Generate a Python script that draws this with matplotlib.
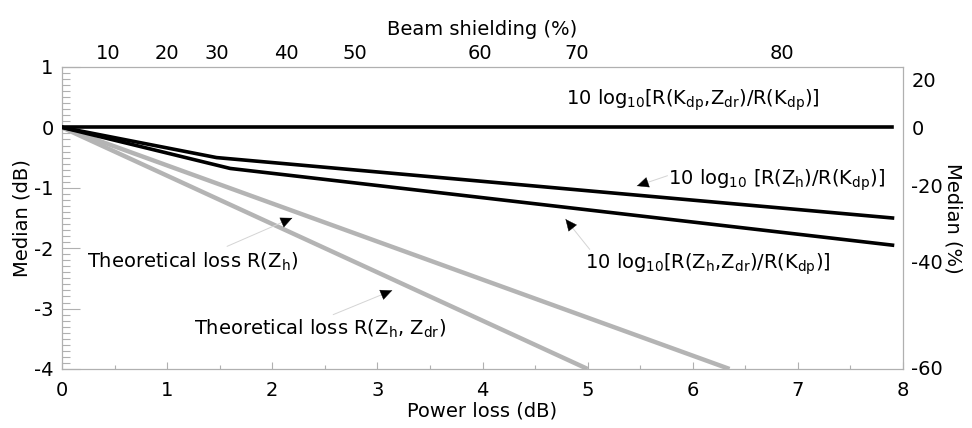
import numpy as np
import matplotlib
matplotlib.use("Agg")
import matplotlib.pyplot as plt

plt.rcParams['font.family'] = ['DejaVu Sans']
plt.rcParams['mathtext.default'] = 'regular'
plt.rcParams['axes.unicode_minus'] = False

# Median rain-rate ratios (dB) versus power loss (dB)
kdpzdr_x = [0.0, 7.9]
kdpzdr_y = [0.0, 0.0]
zh_x = [0.0, 1.47, 7.9]
zh_y = [0.0, -0.50, -1.50]
zhzdr_x = [0.0, 1.60, 7.9]
zhzdr_y = [0.0, -0.68, -1.95]
theo_zh_x = [0.0, 6.35]
theo_zh_y = [0.0, -4.0]
theo_zhzdr_x = [0.0, 5.0]
theo_zhzdr_y = [0.0, -4.0]

# Secondary scales
pct_labels = [20, 0, -20, -40, -60]
shield_labels = [10, 20, 30, 40, 50, 60, 70, 80]
shield_loss_db = [0.44, 1.00, 1.47, 2.13, 2.79, 3.98, 4.90, 6.85]

BLACK = '#000000'
GRAY = '#b4b4b4'
SPINE = '#b0b0b0'
FS = 14

fig = plt.figure(figsize=(9.72, 4.28), dpi=100)
ax = fig.add_axes([0.0638, 0.1379, 0.8652, 0.7056])

ax.plot(theo_zh_x, theo_zh_y, color=GRAY, lw=3.2, solid_capstyle='butt', zorder=2)
ax.plot(theo_zhzdr_x, theo_zhzdr_y, color=GRAY, lw=3.2, solid_capstyle='butt', zorder=2)
ax.plot(kdpzdr_x, kdpzdr_y, color=BLACK, lw=2.6, zorder=3)
ax.plot(zh_x, zh_y, color=BLACK, lw=2.6, zorder=3)
ax.plot(zhzdr_x, zhzdr_y, color=BLACK, lw=2.6, zorder=3)

ax.set_xlim(0, 8)
ax.set_ylim(-4, 1)
ax.set_xticks(np.arange(0, 9, 1))
ax.set_xticks(np.arange(0, 8.01, 0.5), minor=True)
ax.set_yticks(np.arange(-4, 1.01, 1))
ax.set_yticks(np.arange(-4, 1.01, 0.1), minor=True)
ax.tick_params(axis='both', which='both', direction='in', color=SPINE,
               top=True, right=True, labelsize=FS, width=0.8)
ax.tick_params(axis='x', which='major', length=5, pad=9)
ax.tick_params(axis='x', which='minor', length=3)
ax.tick_params(axis='y', which='major', length=13, pad=6)
ax.tick_params(axis='y', which='minor', length=6)
for s in ax.spines.values():
    s.set_color(SPINE)
    s.set_linewidth(0.9)

ax.set_xlabel('Power loss (dB)', fontsize=FS, labelpad=1)
ax.set_ylabel('Median (dB)', fontsize=FS, labelpad=2)

# Right axis: median in percent
axr = ax.twinx()
axr.set_ylim(ax.get_ylim())
axr.set_yticks([10 * np.log10(1 + p / 100.0) for p in pct_labels])
axr.set_yticklabels([str(p) for p in pct_labels])
axr.tick_params(axis='y', length=0, labelsize=FS, pad=6)
for s in axr.spines.values():
    s.set_visible(False)
axr.set_ylabel('Median (%)', fontsize=FS, rotation=270, labelpad=14)

# Top axis: beam shielding
axt = ax.twiny()
axt.set_xlim(ax.get_xlim())
axt.set_xticks(shield_loss_db)
axt.set_xticklabels([str(s) for s in shield_labels])
axt.tick_params(axis='x', length=0, labelsize=FS, pad=3)
for s in axt.spines.values():
    s.set_visible(False)
axt.set_xlabel('Beam shielding (%)', fontsize=FS, labelpad=6)


def pointer(text, xy, xytext, tail):
    ax.annotate(text, xy=xy, xytext=xytext, fontsize=FS, ha='center', va='center')
    # thin leader line from the label towards the curve
    ax.annotate('', xy=xy, xytext=tail,
                arrowprops=dict(arrowstyle='-', color='#d4d4d4', lw=0.7,
                                shrinkA=0, shrinkB=0))
    # small filled arrowhead at the curve end
    p_tip = ax.transData.transform(xy)
    p_tail = ax.transData.transform(tail)
    d = p_tip - p_tail
    d = d / np.hypot(*d)
    off = -d * 9 * 72.0 / fig.dpi
    ax.annotate('', xy=xy, xytext=(off[0], off[1]), textcoords='offset points',
                arrowprops=dict(arrowstyle='-|>,head_length=0.65,head_width=0.3',
                                color=BLACK, lw=0.3, shrinkA=0, shrinkB=0,
                                mutation_scale=12))


ax.text(6.00, 0.45, r'10 log$_{10}$[R(K$_{dp}$,Z$_{dr}$)/R(K$_{dp}$)]',
        fontsize=FS, ha='center', va='center')
pointer(r'10 log$_{10}$ [R(Z$_{h}$)/R(K$_{dp}$)]', (5.47, -0.97), (6.80, -0.88), (5.76, -0.80))
pointer(r'10 log$_{10}$[R(Z$_{h}$,Z$_{dr}$)/R(K$_{dp}$)]', (4.79, -1.52), (6.14, -2.27), (5.02, -2.02))
pointer(r'Theoretical loss R(Z$_{h}$)', (2.19, -1.50), (1.24, -2.22), (1.57, -1.97))
pointer(r'Theoretical loss R(Z$_{h}$, Z$_{dr}$)', (3.14, -2.70), (2.45, -3.33), (2.58, -3.10))

fig.savefig('out.png', dpi=100)
